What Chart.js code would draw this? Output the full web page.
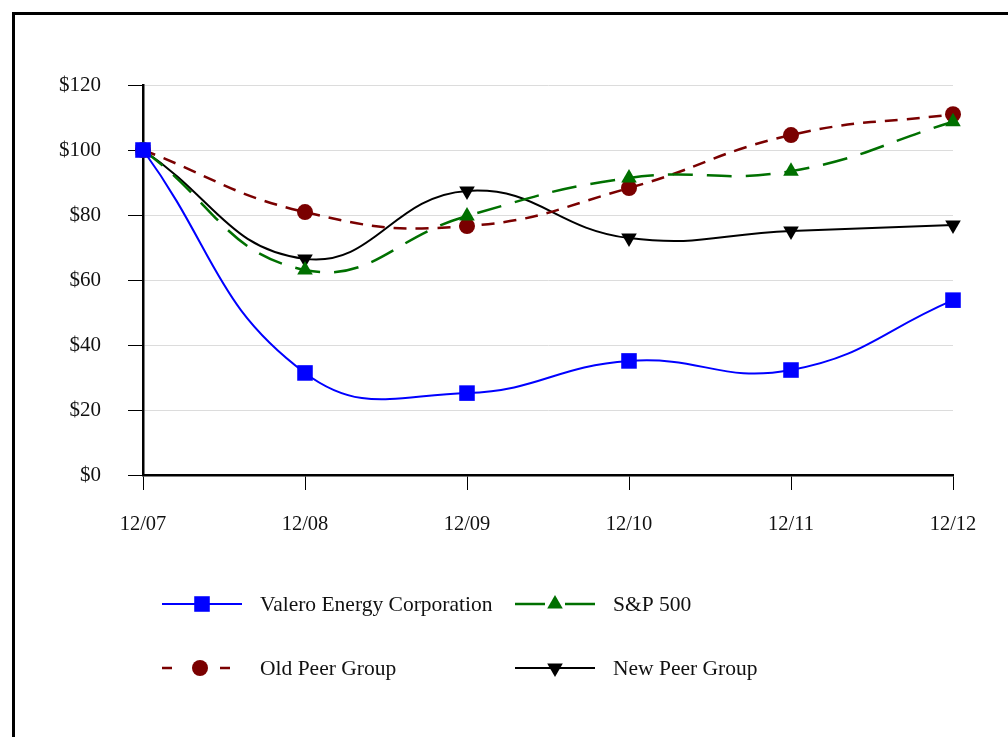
<!DOCTYPE html>
<html>
<head>
<meta charset="utf-8">
<script src="https://cdn.jsdelivr.net/npm/chart.js@4/dist/chart.umd.min.js"></script>
<style>
html,body{margin:0;padding:0;background:#fff;overflow:hidden;}
#wrap{position:relative;width:1008px;height:737px;}
#frame{position:absolute;left:12px;top:12px;width:1100px;height:800px;border:3px solid #000;box-sizing:border-box;}
canvas{position:absolute;left:0;top:0;}
</style>
</head>
<body>
<div id="wrap">
<div id="frame"></div>
<canvas id="c" width="1008" height="737"></canvas>
</div>
<script>
const categories = ["12/07","12/08","12/09","12/10","12/11","12/12"];
const valero = [100, 31.4, 25.2, 35.1, 32.3, 53.8];
const sp500 = [100, 63.1, 79.7, 91.4, 93.5, 108.7];
const oldPeer = [100, 80.9, 76.6, 88.3, 104.6, 111.0];
const newPeer = [100, 66.5, 87.4, 72.9, 75.1, 76.9];
const seriesNames = ["Valero Energy Corporation","S&P 500","Old Peer Group","New Peer Group"];
const yTicks = [0,20,40,60,80,100,120];

const FONT = "'Liberation Serif','Times New Roman',serif";

const datasets = [
  {label: seriesNames[0], data: valero, borderColor:'#0000ff', backgroundColor:'#0000ff', borderWidth:2,
   pointStyle:'rect', pointRadius:11, pointRotation:0, pointBorderWidth:0, tension:0.45, lgX:162, lgY:604},
  {label: seriesNames[1], data: sp500, borderColor:'#007000', backgroundColor:'#007000', borderWidth:2.5, borderDash:[25,14],
   pointStyle:'triangle', pointRadius:9, pointRotation:0, pointBorderWidth:0, tension:0.45, lgX:515, lgY:604},
  {label: seriesNames[2], data: oldPeer, borderColor:'#7a0000', backgroundColor:'#7a0000', borderWidth:2.5, borderDash:[13,9],
   pointStyle:'circle', pointRadius:8, pointRotation:0, pointBorderWidth:0, tension:0.45, lgX:162, lgY:668},
  {label: seriesNames[3], data: newPeer, borderColor:'#000000', backgroundColor:'#000000', borderWidth:2,
   pointStyle:'triangle', pointRadius:9, pointRotation:180, pointBorderWidth:0, tension:0.45, lgX:515, lgY:668}
];

const legendPlugin = {
  id:'customLegend',
  afterDraw(chart){
    const ctx = chart.ctx;
    chart.data.datasets.forEach((ds)=>{
      const x0 = ds.lgX, y = ds.lgY, w = 80;
      ctx.save();
      ctx.strokeStyle = ds.borderColor;
      ctx.lineWidth = ds.borderWidth;
      ctx.beginPath();
      if (ds.borderDash) {
        if (ds.pointStyle === 'circle') {
          ctx.moveTo(x0, y); ctx.lineTo(x0+10, y);
          ctx.moveTo(x0+58, y); ctx.lineTo(x0+68, y);
        } else {
          ctx.moveTo(x0, y); ctx.lineTo(x0+30, y);
          ctx.moveTo(x0+50, y); ctx.lineTo(x0+w, y);
        }
      } else {
        ctx.moveTo(x0, y); ctx.lineTo(x0+w, y);
      }
      ctx.stroke();
      ctx.fillStyle = ds.backgroundColor;
      const mx = ds.pointStyle === 'circle' ? x0+38 : x0+40;
      Chart.helpers.drawPoint(ctx, {pointStyle: ds.pointStyle, radius: ds.pointRadius, rotation: ds.pointRotation, borderWidth: 0}, mx, y);
      ctx.fillStyle = '#111';
      ctx.font = "21.5px " + FONT;
      ctx.textBaseline = 'middle';
      ctx.textAlign = 'left';
      ctx.fillText(ds.label, x0 + 98, y + 1);
      ctx.restore();
    });
  }
};

new Chart(document.getElementById('c'), {
  type:'line',
  data:{labels: categories, datasets: datasets},
  plugins:[legendPlugin],
  options:{
    responsive:false,
    animation:false,
    layout:{padding:{left:0,right:55,top:85,bottom:0}},
    plugins:{legend:{display:false}, tooltip:{enabled:false}},
    scales:{
      x:{
        offset:false,
        grid:{drawOnChartArea:false, tickColor:'#000', tickLength:15, tickWidth:1},
        border:{color:'#000', width:2.5},
        ticks:{color:'#111', font:{family:FONT, size:20.5}, padding:22, maxRotation:0, autoSkip:false},
        afterFit(s){ s.height = 262; }
      },
      y:{
        min:0, max:120,
        afterBuildTicks(s){ s.ticks = yTicks.map(v=>({value:v})); },
        grid:{color:'#dcdcdc', lineWidth:1, tickColor:'#000', tickLength:15, tickWidth:1},
        border:{color:'#000', width:2.5},
        ticks:{color:'#111', font:{family:FONT, size:21}, padding:27, callback:(v)=>'$'+v},
        afterFit(s){ s.width = 143; }
      }
    }
  }
});
</script>
</body>
</html>
